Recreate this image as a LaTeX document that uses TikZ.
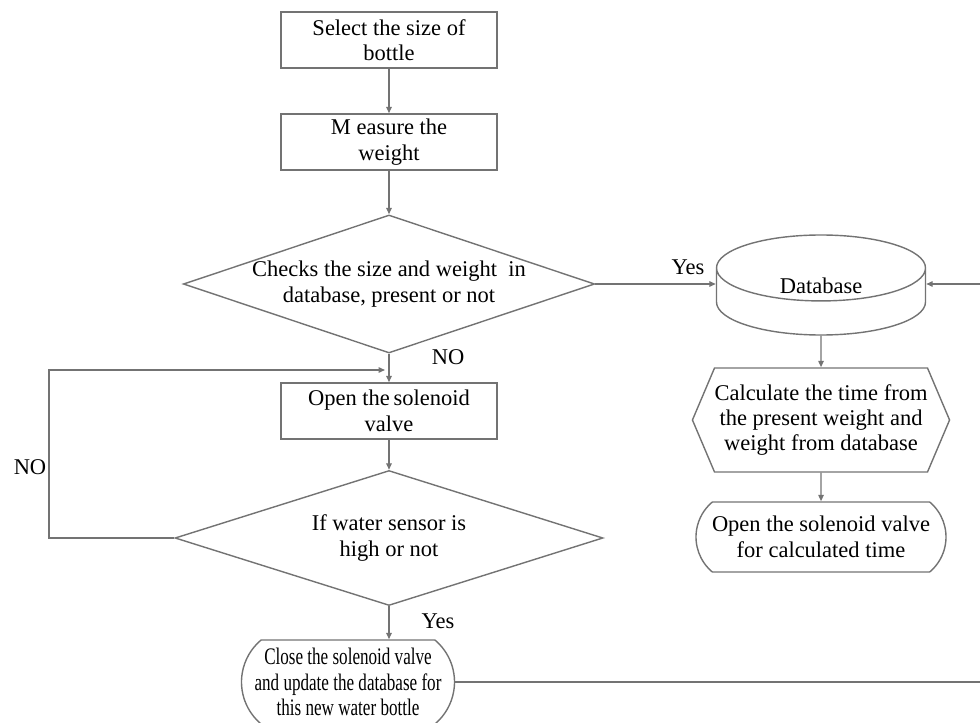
\documentclass[tikz,border=0pt]{standalone}
\usepackage{fontspec}
\setmainfont{Liberation Serif}
\newfontfamily\narrowfont[FakeStretch=0.72]{Liberation Serif}
\usepackage{tikz}
\usetikzlibrary{calc}
\usetikzlibrary{positioning}
\usetikzlibrary{arrows.meta}
\usetikzlibrary{shapes.geometric}
\usetikzlibrary{shapes.misc}
\usetikzlibrary{shapes.symbols}
\definecolor{linegray}{RGB}{115,115,115}
\tikzstyle{base} = [draw=linegray, line width=0.8pt, align=center, font=\fontsize{12.8}{14.5}\selectfont, inner sep=0pt]
\tikzstyle{procbox} = [base, rectangle, minimum width=43.2mm, minimum height=11.2mm]
\tikzstyle{decision} = [base, diamond, aspect=3]
\tikzstyle{termnode} = [base, rounded rectangle, rounded rectangle arc length=100]
\tikzstyle{dbnode} = [base, cylinder, shape border rotate=90, aspect=0.8]
\tikzstyle{prepnode} = [base, signal, signal to=west and east, signal pointer angle=134]
\tikzstyle{arr} = [draw=linegray, line width=0.8pt, -{Triangle[length=1.3mm,width=1.1mm]}]
\tikzstyle{lbl} = [font=\fontsize{12.8}{14.5}\selectfont]

\begin{document}
\begin{tikzpicture}[x=0.2mm, y=-0.2mm]
    \useasboundingbox (0,0) rectangle (980,723);

    \node[procbox] (select) at (389,40) {Select the size of\\bottle};
    \node[procbox] (measure) at (389,142) {M easure the\\weight};
    \node[decision, minimum width=81.6mm, minimum height=27.6mm] (check) at (389,284) {Checks the size and weight\ \ in\\database, present or not};
    \node[procbox] (open) at (389,411) {Open the\,solenoid\\valve};
    \node[decision, minimum width=85.6mm, minimum height=27mm] (sensor) at (389,538) {If water sensor is\\high or not};
    \node[termnode, minimum width=42.6mm, minimum height=16.8mm, font=\narrowfont\fontsize{13.5}{14.5}\selectfont] (close) at (348,682) {Close the solenoid valve\\and update the database for\\this new water bottle};

    \node[dbnode, minimum width=41.8mm, minimum height=20mm, anchor=shape center] (db) at (821,285) {\raisebox{1.6mm}[0pt][0pt]{Database}};
    \node[prepnode, minimum width=50.4mm, minimum height=20.8mm] (calc) at (821,420) {Calculate the time from\\the present weight and\\weight from database};
    \node[termnode, minimum width=50mm, minimum height=14mm] (timed) at (821,537) {Open the solenoid valve\\for calculated time};

    \coordinate (loop) at (49,370);
    \coordinate (rside) at (983,682);

    \draw[arr] (select) -- (measure);
    \draw[arr] (measure) -- (check);
    \draw[arr] (check.east) -- (check.east -| db.west);
    \draw[arr] (check) -- (open);
    \draw[arr] (open) -- (sensor);
    \draw[arr] (sensor.south) -- (sensor.south |- close.north);
    \draw[arr] (sensor.west) -| (loop) -- ($(loop -| open.north)+(-4,0)$);
    \draw[arr] (db.south) -- (calc);
    \draw[arr] (calc) -- (timed);
    \draw[arr] (close.east) -- (rside) |- (check.east -| db.east);

    \node[lbl] (yes1) at (688,267) {Yes};
    \node[lbl] (no1) at (448,357) {NO};
    \node[lbl] (no2) at (30,467) {NO};
    \node[lbl] (yes2) at (438,621) {Yes};
\end{tikzpicture}
\end{document}
